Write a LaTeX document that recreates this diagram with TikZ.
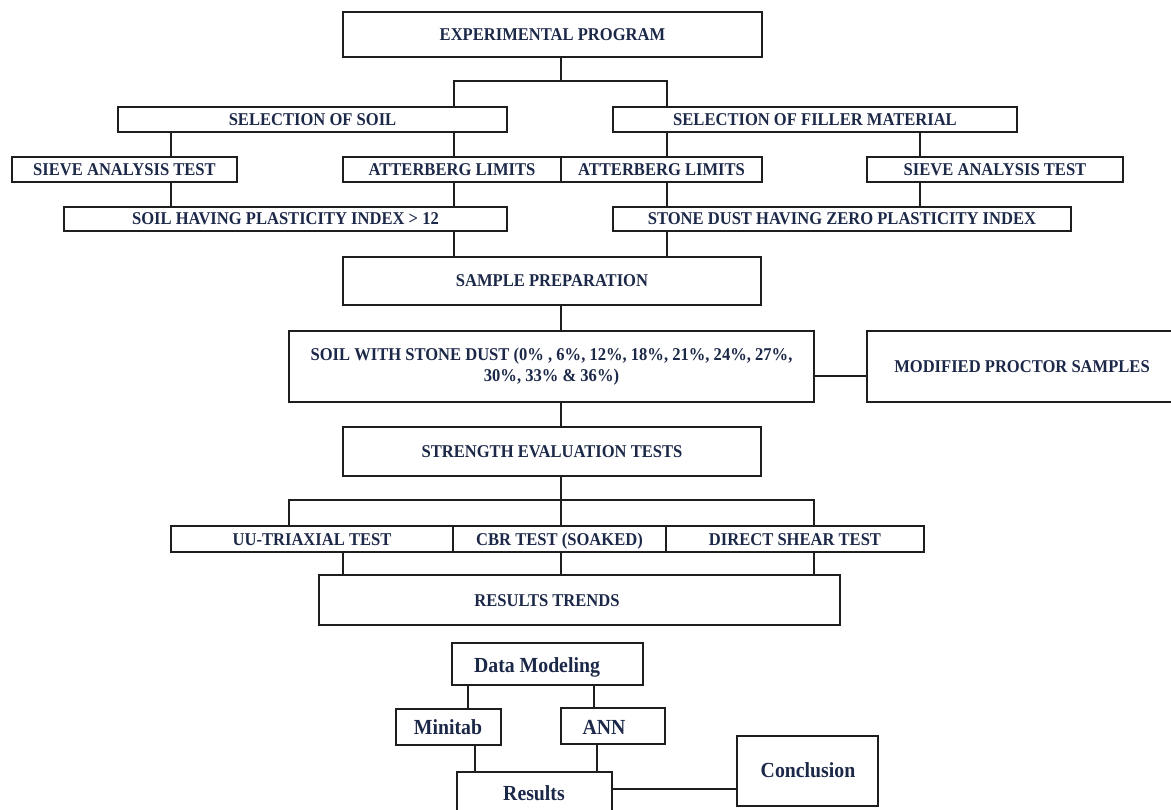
\documentclass[tikz,border=0pt]{standalone}
\usepackage{fontspec}
\setmainfont{Liberation Serif}
\newfontfamily\tnr[FakeStretch=0.92]{Liberation Serif}
\usetikzlibrary{calc}
\definecolor{ink}{RGB}{28,40,72}
\definecolor{edge}{RGB}{30,30,30}
\begin{document}
\begin{tikzpicture}[x=1pt,y=-1pt,
  box/.style={draw=edge, line width=1.4pt, inner sep=0pt, outer sep=0pt, text=ink,
    font=\tnr\fontsize{18}{21}\selectfont\bfseries, align=center, text height=12pt, text depth=0pt},
  mbox/.style={draw=edge, line width=1.4pt, inner sep=0pt, outer sep=0pt, text=ink,
    font=\tnr\fontsize{18}{21}\selectfont\bfseries, align=center},
  sbox/.style={box, font=\tnr\fontsize{21.5}{24}\selectfont\bfseries},
  txt/.style={text=ink, inner sep=0pt, font=\tnr\fontsize{18}{21}\selectfont\bfseries, text height=12pt, text depth=0pt},
  stxt/.style={text=ink, inner sep=0pt, font=\tnr\fontsize{21.5}{24}\selectfont\bfseries, text height=14pt, text depth=0pt},
  con/.style={draw=edge, line width=1.2pt}]
\useasboundingbox (0,0) rectangle (1171,810);

% x positions of connectors
\coordinate (c171) at (171,0);
\coordinate (c289) at (289,0);
\coordinate (c343) at (343,0);
\coordinate (c454) at (454,0);
\coordinate (c561) at (561,0);
\coordinate (c667) at (667,0);
\coordinate (c814) at (814,0);
\coordinate (c920) at (920,0);
\coordinate (c468) at (468,0);
\coordinate (c594) at (594,0);
\coordinate (c475) at (475,0);
\coordinate (c597) at (597,0);
\coordinate (j1) at (561,81);
\coordinate (j2) at (561,500);

% boxes
\node[box, minimum width=419pt, minimum height=45pt] (exp) at (552.5,34.5) {EXPERIMENTAL PROGRAM};
\node[box, minimum width=389pt, minimum height=25pt] (selsoil) at (312.5,119.5) {SELECTION OF SOIL};
\node[box, minimum width=404pt, minimum height=25pt] (filler) at (815,119.5) {SELECTION OF FILLER MATERIAL};
\node[box, minimum width=225pt, minimum height=25pt] (sieveL) at (124.5,169.5) {SIEVE ANALYSIS TEST};
\node[box, minimum width=218pt, minimum height=25pt] (attL) at (452,169.5) {ATTERBERG LIMITS};
\node[box, minimum width=201pt, minimum height=25pt] (attR) at (661.5,169.5) {ATTERBERG LIMITS};
\node[box, minimum width=256pt, minimum height=25pt] (sieveR) at (995,169.5) {SIEVE ANALYSIS TEST};
\node[box, minimum width=443pt, minimum height=24pt] (soilpi) at (285.5,219) {SOIL HAVING PLASTICITY INDEX > 12};
\node[box, minimum width=458pt, minimum height=24pt] (stone) at (842,219) {STONE DUST HAVING ZERO PLASTICITY INDEX};
\node[box, minimum width=418pt, minimum height=48pt] (prep) at (552,281) {SAMPLE PREPARATION};
\node[mbox, minimum width=525pt, minimum height=71pt] (soilsd) at (551.5,366.5)
  {SOIL WITH STONE DUST (0\% , 6\%, 12\%, 18\%, 21\%, 24\%, 27\%,\\30\%, 33\% \& 36\%)};
\node[box, minimum width=310pt, minimum height=71pt] (proctor) at (1022,366.5) {MODIFIED PROCTOR SAMPLES};
\node[box, minimum width=418pt, minimum height=49pt] (strength) at (552,451.5) {STRENGTH EVALUATION TESTS};
\node[box, minimum width=282pt, minimum height=26pt] (uu) at (312,539) {UU-TRIAXIAL TEST};
\node[box, minimum width=213pt, minimum height=26pt] (cbr) at (559.5,539) {CBR TEST (SOAKED)};
\node[box, minimum width=258pt, minimum height=26pt] (ds) at (795,539) {DIRECT SHEAR TEST};
\node[box, minimum width=521pt, minimum height=50pt] (rt) at (579.5,600) {};
\node[txt] (rtt) at (547,600) {RESULTS TRENDS};

\node[sbox, minimum width=191pt, minimum height=42pt] (dm) at (547.5,664) {};
\node[stxt] (dmt) at (537,665) {Data Modeling};
\node[sbox, minimum width=105pt, minimum height=36pt] (mini) at (448.5,727) {};
\node[stxt] (minit) at (448,727) {Minitab};
\node[sbox, minimum width=104pt, minimum height=36pt] (ann) at (613,726) {};
\node[stxt] (annt) at (604,727) {ANN};
\node[sbox, minimum width=155pt, minimum height=58pt] (res) at (534.5,801) {};
\node[stxt] (rest) at (534,793) {Results};
\node[sbox, minimum width=141pt, minimum height=70pt] (concl) at (807.5,771) {};
\node[stxt] (conclt) at (808,770) {Conclusion};

% connectors
\draw[con] (exp.south -| j1) -- (j1);
\draw[con] (selsoil.north -| c454) |- (j1) -| (filler.north -| c667);
\draw[con] (selsoil.south -| c171) -- (sieveL.north -| c171);
\draw[con] (selsoil.south -| c454) -- (attL.north -| c454);
\draw[con] (filler.south -| c667) -- (attR.north -| c667);
\draw[con] (filler.south -| c920) -- (sieveR.north -| c920);
\draw[con] (sieveL.south -| c171) -- (soilpi.north -| c171);
\draw[con] (attL.south -| c454) -- (soilpi.north -| c454);
\draw[con] (attR.south -| c667) -- (stone.north -| c667);
\draw[con] (sieveR.south -| c920) -- (stone.north -| c920);
\draw[con] (soilpi.south -| c454) -- (prep.north -| c454);
\draw[con] (stone.south -| c667) -- (prep.north -| c667);
\draw[con] (prep.south -| c561) -- (soilsd.north -| c561);
\draw[con] (soilsd.east |- 0,376) -- (proctor.west |- 0,376);
\draw[con] (soilsd.south -| c561) -- (strength.north -| c561);
\draw[con] (strength.south -| c561) -- (cbr.north -| c561);
\draw[con] (uu.north -| c289) |- (j2) -| (ds.north -| c814);
\draw[con] (uu.south -| c343) -- (rt.north -| c343);
\draw[con] (cbr.south -| c561) -- (rt.north -| c561);
\draw[con] (ds.south -| c814) -- (rt.north -| c814);
\draw[con] (dm.south -| c468) -- (mini.north -| c468);
\draw[con] (dm.south -| c594) -- (ann.north -| c594);
\draw[con] (mini.south -| c475) -- (res.north -| c475);
\draw[con] (ann.south -| c597) -- (res.north -| c597);
\draw[con] (res.east |- 0,789) -- (concl.west |- 0,789);
\end{tikzpicture}
\end{document}
